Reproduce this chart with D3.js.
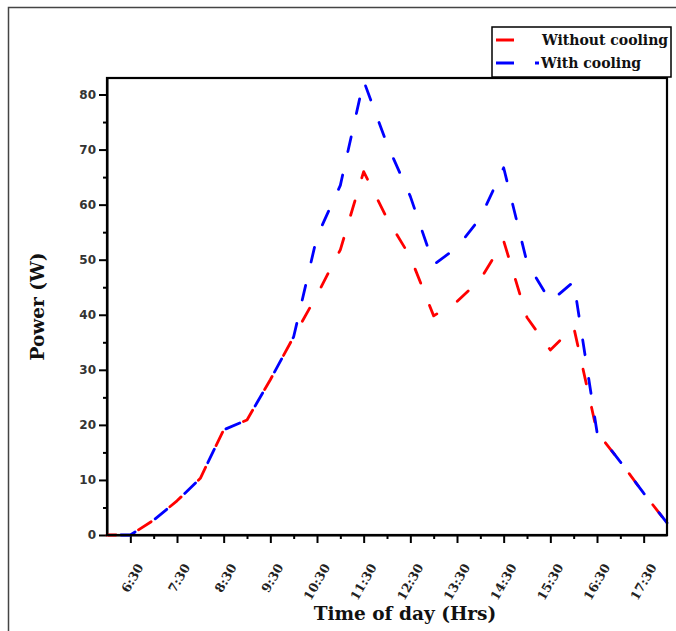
<!DOCTYPE html>
<html>
<head>
<meta charset="utf-8">
<script src="https://cdnjs.cloudflare.com/ajax/libs/d3/7.8.5/d3.min.js"></script>
<style>
body { margin: 0; background: #fff; }
</style>
</head>
<body>
<div id="chart-area"></div>
<script>
// half-hour readings, 6:00 -> 18:00
var hours = [6, 6.5, 7, 7.5, 8, 8.5, 9, 9.5, 10, 10.5, 11, 11.5, 12,
             12.5, 13, 13.5, 14, 14.5, 15, 15.5, 16, 16.5, 17, 17.5, 18];
var withoutCooling = [0, 0, 2.7, 6.2, 10.3, 19.1, 20.9, 28.2, 36, 43.6, 51.8, 66, 57.5,
                      50.5, 39.8, 42.4, 46.4, 53.4, 39.5, 33.6, 37.8, 18.7, 13.3, 7.6, 2.2];
var withCooling = [0, 0, 2.7, 6.2, 10.3, 19.1, 20.9, 28.2, 36, 54.2, 63.5, 82.5, 71,
                   61.5, 49.1, 52.2, 57.6, 66.7, 49.5, 42.4, 46, 18.7, 13.3, 7.6, 2.2];

var xMajor = [6.5, 7.5, 8.5, 9.5, 10.5, 11.5, 12.5, 13.5, 14.5, 15.5, 16.5, 17.5];
var xLabels = ["6:30", "7:30", "8:30", "9:30", "10:30", "11:30", "12:30",
               "13:30", "14:30", "15:30", "16:30", "17:30"];
var xMinor = [7, 8, 9, 10, 11, 12, 13, 14, 15, 16, 17];
var yMajor = [0, 10, 20, 30, 40, 50, 60, 70, 80];
var yMinor = [5, 15, 25, 35, 45, 55, 65, 75];

var seriesNames = ["Without cooling", "With cooling"];
var seriesColors = ["#ff0000", "#0000ff"];

var W = 676, H = 631;
var plotLeft = 107, plotRight = 667, plotTop = 78, plotBottom = 535;

var svg = d3.select("#chart-area")
    .append("svg")
    .attr("width", W)
    .attr("height", H);

// outer figure border (left + top only visible)
svg.append("path")
    .attr("d", "M8.5," + H + " L8.5,7.5 L" + W + ",7.5")
    .attr("fill", "none")
    .attr("stroke", "#444")
    .attr("stroke-width", 1.5);

var x = d3.scaleLinear()
    .domain([6, 18])
    .range([plotLeft, plotRight]);

var y = d3.scaleLinear()
    .domain([0, 83])
    .range([plotBottom, plotTop]);

// minor ticks
svg.append("g")
    .attr("transform", "translate(0," + plotBottom + ")")
    .call(d3.axisBottom(x).tickValues(xMinor).tickSize(4).tickSizeOuter(0).tickFormat(""))
    .call(function(g){ g.select(".domain").remove(); });

svg.append("g")
    .attr("transform", "translate(" + plotLeft + ",0)")
    .call(d3.axisLeft(y).tickValues(yMinor).tickSize(4).tickSizeOuter(0).tickFormat(""))
    .call(function(g){ g.select(".domain").remove(); });

// major x axis
var xAxisCall = d3.axisBottom(x)
    .tickValues(xMajor)
    .tickSize(8)
    .tickSizeOuter(0)
    .tickFormat(function(d, i){ return xLabels[i]; });

svg.append("g")
    .attr("class", "xaxis")
    .attr("transform", "translate(0," + plotBottom + ")")
    .call(xAxisCall)
    .selectAll("text")
        .attr("x", 0)
        .attr("y", 0)
        .attr("dy", 0)
        .attr("text-anchor", "end")
        .attr("transform", "translate(13,32) rotate(-60)")
        .attr("font-family", "'DejaVu Serif', serif")
        .attr("font-weight", "bold")
        .attr("font-size", "12.5px")
        .attr("fill", "#222");

// major y axis
var yAxisCall = d3.axisLeft(y)
    .tickValues(yMajor)
    .tickSize(8)
    .tickSizeOuter(0);

svg.append("g")
    .attr("class", "yaxis")
    .attr("transform", "translate(" + plotLeft + ",0)")
    .call(yAxisCall)
    .selectAll("text")
        .attr("font-family", "'DejaVu Sans', sans-serif")
        .attr("font-weight", "bold")
        .attr("font-size", "12px")
        .attr("fill", "#333");

svg.selectAll(".tick line").attr("stroke", "#000").attr("stroke-width", 2);
svg.selectAll(".domain").attr("stroke-width", 2);

// lines
var series = [withoutCooling, withCooling];
var offsets = [6, 25];

series.forEach(function(vals, k){
    var line = d3.line()
        .x(function(d, i){ return x(hours[i]); })
        .y(function(d){ return y(d); });
    svg.append("path")
        .datum(vals)
        .attr("d", line)
        .attr("fill", "none")
        .attr("stroke", seriesColors[k])
        .attr("stroke-width", 2.8)
        .attr("stroke-linecap", "round")
        .attr("stroke-linejoin", "round")
        .attr("stroke-dasharray", "15,24")
        .attr("stroke-dashoffset", offsets[k]);
});

// plot frame
svg.append("rect")
    .attr("x", plotLeft)
    .attr("y", plotTop)
    .attr("width", plotRight - plotLeft)
    .attr("height", plotBottom - plotTop)
    .attr("fill", "none")
    .attr("stroke", "#000")
    .attr("stroke-width", 2.2);

// legend
var legend = svg.append("g");
legend.append("rect")
    .attr("x", 492)
    .attr("y", 27)
    .attr("width", 179)
    .attr("height", 50)
    .attr("fill", "#fff")
    .attr("stroke", "#000")
    .attr("stroke-width", 1.5);

seriesNames.forEach(function(name, k){
    var ly = 40 + k * 23;
    legend.append("line")
        .attr("x1", 496).attr("x2", 514)
        .attr("y1", ly).attr("y2", ly)
        .attr("stroke", seriesColors[k])
        .attr("stroke-width", 3);
    if (k == 1) {
        legend.append("line")
            .attr("x1", 535).attr("x2", 539)
            .attr("y1", ly).attr("y2", ly)
            .attr("stroke", seriesColors[k])
            .attr("stroke-width", 3);
    }
    legend.append("text")
        .attr("x", k == 0 ? 542 : 541)
        .attr("y", ly + 5)
        .attr("font-family", "'DejaVu Serif', serif")
        .attr("font-weight", "bold")
        .attr("font-size", "14px")
        .attr("fill", "#111")
        .text(name);
});

// axis titles
svg.append("text")
    .attr("x", -((plotTop + plotBottom) / 2))
    .attr("y", 44)
    .attr("transform", "rotate(-90)")
    .attr("text-anchor", "middle")
    .attr("font-family", "'DejaVu Serif', serif")
    .attr("font-weight", "bold")
    .attr("font-size", "18.5px")
    .attr("fill", "#111")
    .text("Power (W)");

svg.append("text")
    .attr("x", 405)
    .attr("y", 620)
    .attr("text-anchor", "middle")
    .attr("font-family", "'DejaVu Serif', serif")
    .attr("font-weight", "bold")
    .attr("font-size", "18.5px")
    .attr("fill", "#111")
    .text("Time of day (Hrs)");
</script>
</body>
</html>
